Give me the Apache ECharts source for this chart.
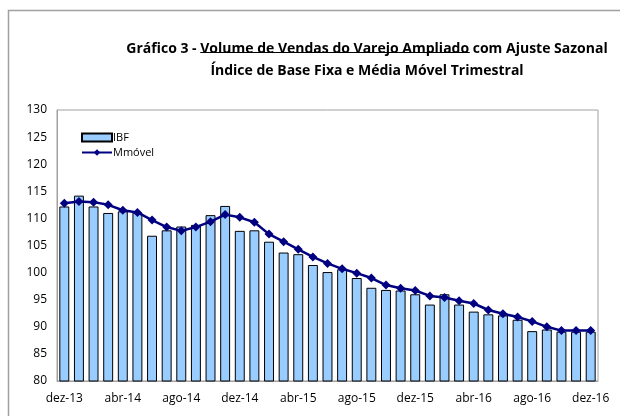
<!DOCTYPE html>
<html>
<head>
<meta charset="utf-8">
<script src="https://cdn.jsdelivr.net/npm/echarts@6/dist/echarts.min.js"></script>
<style>
  html, body { margin: 0; padding: 0; background: #fff; }
  #chart { width: 620px; height: 416px; }
</style>
</head>
<body>
<div id="chart"></div>
<script>
// meses de dez-13 a dez-16
var months = ['dez-13','jan-14','fev-14','mar-14','abr-14','mai-14','jun-14','jul-14','ago-14','set-14','out-14','nov-14',
  'dez-14','jan-15','fev-15','mar-15','abr-15','mai-15','jun-15','jul-15','ago-15','set-15','out-15','nov-15',
  'dez-15','jan-16','fev-16','mar-16','abr-16','mai-16','jun-16','jul-16','ago-16','set-16','out-16','nov-16','dez-16'];

// indice de base fixa
var ibf = [112.2, 114.2, 112.2, 111.0, 111.3, 111.1, 106.8, 107.8, 108.5, 108.8, 110.6, 112.3,
  107.7, 107.8, 105.7, 103.7, 103.4, 101.4, 100.1, 100.6, 99.0, 97.2, 96.8, 96.7,
  96.0, 94.1, 96.0, 94.1, 92.8, 92.3, 92.1, 91.3, 89.2, 89.5, 89.1, 89.1, 89.1];

// media movel trimestral
var mmovel = [112.8, 113.1, 113.0, 112.5, 111.5, 111.1, 109.7, 108.4, 107.7, 108.4, 109.4, 110.7,
  110.2, 109.3, 107.1, 105.7, 104.3, 102.9, 101.7, 100.7, 99.9, 99.0, 97.7, 97.1,
  96.7, 95.7, 95.4, 94.8, 94.3, 93.1, 92.4, 91.8, 91.0, 90.0, 89.3, 89.3, 89.3];

var font = 'Open Sans';
var titleSize = 14;
var t1 = 'Gráfico 3 - ', t2 = 'Volume de Vendas do Varejo Ampliado ', t3 = 'com Ajuste Sazonal';
var titleX = 362, titleTop = 33;

// mede o texto para posicionar o sublinhado
var ctx = document.createElement('canvas').getContext('2d');
ctx.font = 'bold ' + titleSize + 'px "' + font + '"';
var w1 = ctx.measureText(t1).width, w2 = ctx.measureText(t2).width, w3 = ctx.measureText(t3).width;
var x0 = titleX - (w1 + w2 + w3) / 2;

var myChart = echarts.init(document.getElementById('chart'));

var option = {
  animation: false,
  textStyle: { fontFamily: font },
  title: {
    left: titleX,
    top: titleTop,
    textAlign: 'center',
    text: '{b|' + t1 + '}{b|' + t2 + '}{b|' + t3 + '}\n{b|Índice de Base Fixa e Média Móvel Trimestral}',
    textStyle: {
      rich: {
        b: { fontFamily: font, fontWeight: 'bold', fontSize: titleSize, color: '#000', lineHeight: 22 }
      }
    }
  },
  graphic: [
    // moldura externa
    { type: 'rect', shape: { x: 8.5, y: 10.5, width: 700, height: 500 }, style: { fill: 'none', stroke: '#a0a0a0', lineWidth: 1.5 }, silent: true },
    // sublinhado do titulo
    { type: 'line', shape: { x1: x0 + w1 + 5, y1: 52.5, x2: x0 + w1 + w2 + 2, y2: 52.5 }, style: { stroke: '#000', lineWidth: 1 }, silent: true }
  ],
  legend: {
    orient: 'vertical',
    left: 76,
    top: 127,
    itemWidth: 30,
    itemHeight: 8,
    itemGap: 4,
    textStyle: { fontFamily: font, fontSize: 11, color: '#000', padding: [0, 0, 0, -4] },
    data: [
      { name: 'IBF', icon: 'rect' },
      { name: 'Mmóvel' }
    ]
  },
  grid: {
    left: 57, top: 110, right: 22, bottom: 35,
    show: true, borderColor: '#a0a0a0', borderWidth: 1
  },
  xAxis: {
    type: 'category',
    data: months,
    axisLine: { lineStyle: { color: '#a0a0a0' } },
    axisTick: { show: false },
    axisLabel: { interval: 3, color: '#000', fontSize: 12, margin: 12, fontFamily: font }
  },
  yAxis: {
    type: 'value',
    min: 80, max: 130, interval: 5,
    axisLine: { show: true, lineStyle: { color: '#a0a0a0' } },
    axisTick: { show: false },
    splitLine: { show: false },
    axisLabel: { color: '#000', fontSize: 12, margin: 10, fontFamily: font }
  },
  series: [
    {
      name: 'IBF',
      type: 'bar',
      data: ibf,
      barCategoryGap: '32%',
      itemStyle: { color: '#99ccff', borderColor: '#000', borderWidth: 1 }
    },
    {
      name: 'Mmóvel',
      type: 'line',
      data: mmovel,
      symbol: 'diamond',
      symbolSize: 9,
      lineStyle: { color: '#000080', width: 2.5 },
      itemStyle: { color: '#000080' }
    }
  ]
};

myChart.setOption(option);
</script>
</body>
</html>
